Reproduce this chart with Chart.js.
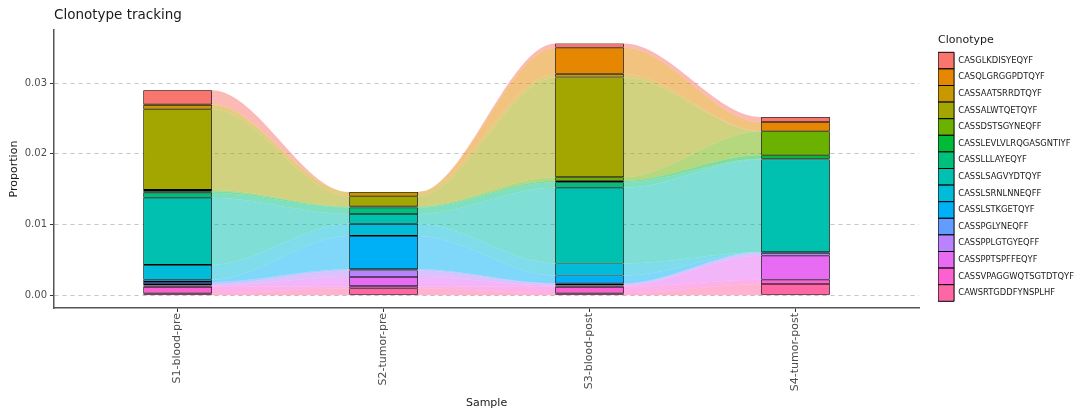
<!DOCTYPE html>
<html>
<head>
<meta charset="utf-8">
<script src="https://cdn.jsdelivr.net/npm/chart.js@4/dist/chart.umd.min.js"></script>
<style>
  html, body { margin: 0; padding: 0; background: #ffffff; }
  #wrap { width: 1088px; height: 415px; }
</style>
</head>
<body>
<div id="wrap"><canvas id="chart" width="1088" height="415"></canvas></div>
<script>
// ---------------- data ----------------
const categories = ['S1-blood-pre', 'S2-tumor-pre', 'S3-blood-post', 'S4-tumor-post'];

const clonotypes = [
  'CASGLKDISYEQYF', 'CASQLGRGGPDTQYF', 'CASSAATSRRDTQYF', 'CASSALWTQETQYF',
  'CASSDSTSGYNEQFF', 'CASSLEVLVLRQGASGNTIYF', 'CASSLLLAYEQYF', 'CASSLSAGVYDTQYF',
  'CASSLSRNLNNEQFF', 'CASSLSTKGETQYF', 'CASSPGLYNEQFF', 'CASSPPLGTGYEQFF',
  'CASSPPTSPFFEQYF', 'CASSVPAGGWQTSGTDTQYF', 'CAWSRTGDDFYNSPLHF'
];

const cloneColors = [
  '#F8766D', '#E58700', '#C99800', '#A3A500', '#6BB100', '#00BA38', '#00BF7D', '#00C0AF',
  '#00BCD8', '#00B0F6', '#619CFF', '#B983FF', '#E76BF3', '#FD61D1', '#FF67A4'
];

// proportions per sample, in clonotype order
const s1Values = [0.0020, 0.0001, 0.0006, 0.0114, 0.0002, 0.0002, 0.0007, 0.0095, 0.0021, 0.0003, 0.0003, 0.0002, 0.0002, 0.0009, 0.0003];
const s2Values = [0.0000, 0.0000, 0.0006, 0.0014, 0.0001, 0.0001, 0.0009, 0.0014, 0.0017, 0.0047, 0.0002, 0.0009, 0.0013, 0.0003, 0.0010];
const s3Values = [0.0006, 0.0037, 0.0005, 0.0141, 0.0005, 0.0002, 0.0008, 0.0107, 0.0017, 0.0011, 0.0001, 0.0002, 0.0002, 0.0009, 0.0003];
const s4Values = [0.0007, 0.0013, 0.0000, 0.0000, 0.0034, 0.0005, 0.0001, 0.0131, 0.0000, 0.0000, 0.0001, 0.0004, 0.0034, 0.0006, 0.0016];

const yTicks = [0, 0.01, 0.02, 0.03];

// ---------------- build ----------------
const sampleValues = [s1Values, s2Values, s3Values, s4Values];
const n = clonotypes.length;
const BAR_W = 1 / 3;
const FONT = "'DejaVu Sans', sans-serif";
Chart.defaults.font.family = FONT;

function stackBase(vals, k) {
  let s = 0;
  for (let j = n - 1; j > k; j--) s += vals[j];
  return s;
}
function withAlpha(hex, a) {
  const r = parseInt(hex.slice(1, 3), 16), g = parseInt(hex.slice(3, 5), 16), b = parseInt(hex.slice(5, 7), 16);
  return `rgba(${r},${g},${b},${a})`;
}
function edgePoints(valueFn) {
  return categories.flatMap((c, i) => {
    const v = valueFn(i);
    return [{ x: i + 1 - BAR_W / 2, y: v }, { x: i + 1 + BAR_W / 2, y: v }];
  });
}

const datasets = [];
// flows (alluvia) between samples
datasets.push({
  type: 'line', label: 'base', data: edgePoints(() => 0),
  borderWidth: 0, borderColor: 'rgba(0,0,0,0)', pointRadius: 0, fill: false,
  cubicInterpolationMode: 'monotone', order: 2
});
for (let k = n - 1; k >= 0; k--) {
  datasets.push({
    type: 'line', label: clonotypes[k] + ' flow',
    data: edgePoints(i => stackBase(sampleValues[i], k) + sampleValues[i][k]),
    borderWidth: 0, borderColor: 'rgba(0,0,0,0)', pointRadius: 0,
    fill: '-1', backgroundColor: withAlpha(cloneColors[k], 0.5),
    cubicInterpolationMode: 'monotone', order: 2
  });
}
// stacked strata (bars)
clonotypes.forEach((name, k) => {
  datasets.push({
    type: 'bar', label: name,
    data: categories.map((c, i) => {
      const lo = stackBase(sampleValues[i], k);
      return { x: i + 1, y: [lo, lo + sampleValues[i][k]] };
    }),
    backgroundColor: cloneColors[k], borderColor: '#000000', borderWidth: 0.8,
    borderSkipped: false, grouped: false, barPercentage: BAR_W, categoryPercentage: 1, order: 1
  });
});

new Chart(document.getElementById('chart'), {
  type: 'bar',
  data: { datasets },
  options: {
    responsive: false,
    animation: false,
    events: [],
    layout: { padding: { left: 0, right: 4, top: 0, bottom: 0 } },
    plugins: {
      tooltip: { enabled: false },
      title: {
        display: true, text: 'Clonotype tracking', align: 'start', fullSize: false,
        color: '#1A1A1A', font: { size: 13.5, weight: 'normal' }, padding: { top: 7.6, bottom: 6.2 }
      },
      legend: {
        display: true, position: 'right', align: 'start', fullSize: true,
        onClick: () => {},
        title: {
          display: true, text: 'Clonotype', position: 'start', color: '#1A1A1A',
          font: { size: 11 }, padding: { top: 34.5, bottom: 4.6 }
        },
        labels: {
          boxWidth: 16, boxHeight: 16.6, padding: 0, color: '#1A1A1A', font: { size: 8.4 },
          generateLabels: () => clonotypes.map((t, k) => ({
            text: t, fillStyle: cloneColors[k], strokeStyle: '#000000', lineWidth: 1, hidden: false
          }))
        }
      }
    },
    scales: {
      x: {
        type: 'linear', min: 0.4, max: 4.6, offset: false,
        afterBuildTicks: s => { s.ticks = categories.map((c, i) => ({ value: i + 1 })); },
        afterFit: s => { s.height = 107; },
        ticks: {
          callback: v => categories[Math.round(v) - 1],
          minRotation: 90, maxRotation: 90, autoSkip: false,
          font: { size: 11 }, color: '#4D4D4D', padding: 1
        },
        grid: { display: true, drawOnChartArea: false, drawTicks: true, tickLength: 4, tickColor: '#333333', tickWidth: 1, offset: false },
        border: { display: true, color: '#555555', width: 1.5 },
        title: { display: true, text: 'Sample', color: '#1A1A1A', font: { size: 11 }, padding: { top: 0, bottom: 5.4 } }
      },
      y: {
        type: 'linear', min: -0.00179, max: 0.0375,
        afterBuildTicks: s => { s.ticks = yTicks.map(v => ({ value: v })); },
        afterFit: s => { s.width = 54; },
        ticks: { callback: v => v.toFixed(2), font: { size: 10 }, color: '#4D4D4D', padding: 3 },
        grid: { color: '#C4C4C4', lineWidth: 1, drawTicks: true, tickLength: 4, tickColor: '#333333', tickWidth: 1, tickBorderDash: [] },
        border: { display: true, color: '#555555', width: 1.5, dash: [4, 4] },
        title: { display: true, text: 'Proportion', color: '#1A1A1A', font: { size: 11 }, padding: { top: 8, bottom: 0 } }
      },
      gap: {
        type: 'linear', position: 'right', display: true,
        grid: { display: false }, border: { display: false }, ticks: { display: false },
        afterFit: s => { s.width = 19; }
      }
    }
  }
});
</script>
</body>
</html>
